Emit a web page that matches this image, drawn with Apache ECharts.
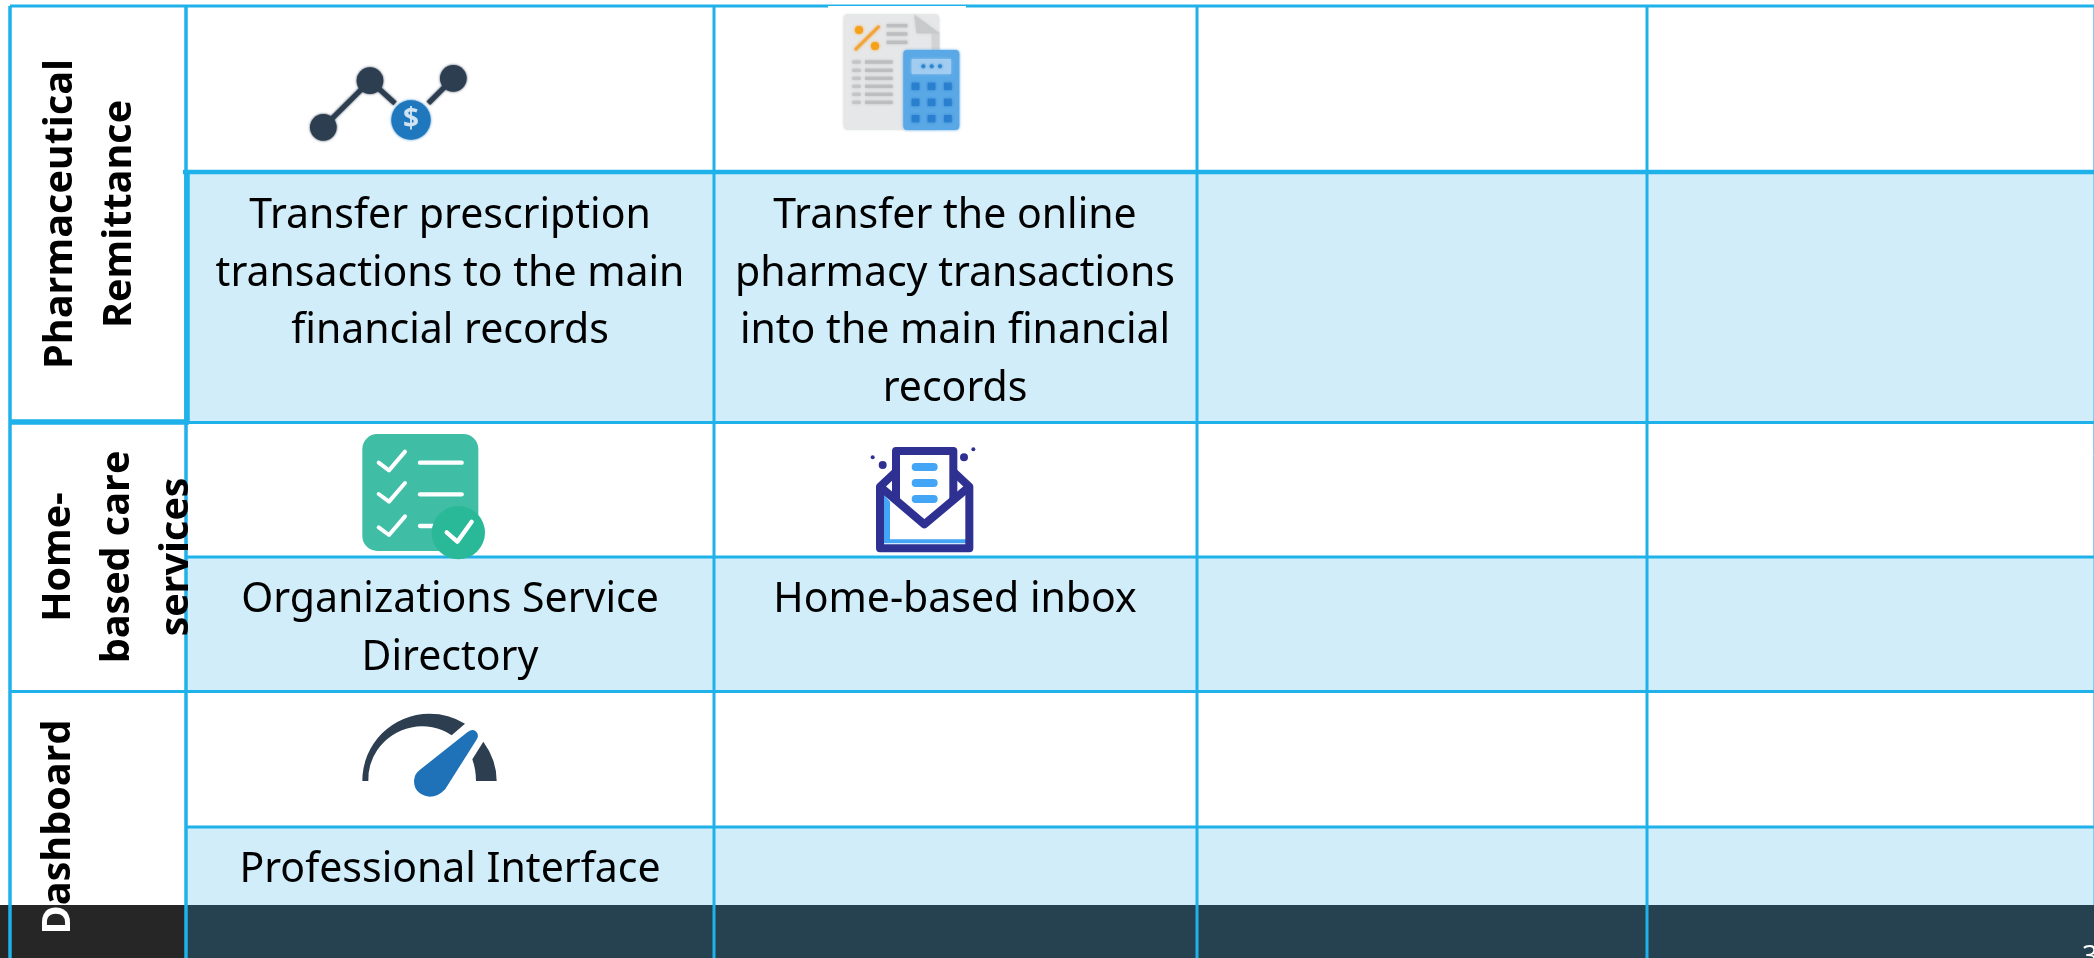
<!DOCTYPE html>
<html><head><meta charset="utf-8">
<script src="https://cdn.jsdelivr.net/npm/echarts@6/dist/echarts.min.js"></script>
<style>html,body{margin:0;padding:0;background:#fff}#c{width:2094px;height:958px}</style>
</head><body><div id="c"></div>
<script>
// ---- content ----
const sectionLabels = ['Pharmaceutical\nRemittance', 'Home-\nbased care\nservices', '{w|D}{b|ashboard}'];
const prescriptionCell = 'Transfer prescription\ntransactions to the main\nfinancial records';
const onlineCell = 'Transfer the online\npharmacy transactions\ninto the main financial\nrecords';
const directoryCell = 'Organizations Service\nDirectory';
const inboxCell = 'Home-based inbox';
const interfaceCell = 'Professional Interface';
const pageNumber = '3';
const cellTexts = [prescriptionCell, onlineCell, directoryCell, inboxCell, interfaceCell];
const iconNames = ['money', 'calculator', 'checklist', 'inbox', 'gauge'];

// ---- layout, in the axis units of the page-sized grid ----
const colEdges = [10, 186, 714, 1197, 1647, 2094];
const rowEdges = [6, 172, 421.5, 557, 691.5, 827, 905, 958];
const sectionCenters = [[90, 214], [118, 557], [59, 827]];
const textAnchors = [[450, 188], [955, 188], [450, 572], [955, 572], [450, 842]];
const iconOrigins = [[280, 40], [820, 0], [350, 425], [860, 435], [350, 700]];
const C = {line: '#1fb1ea', fill: '#d1edf9', band: '#264250', bandL: '#262626',
  dark: '#2c3e50', blue: '#1f78bd', text: '#000000'};

const xy = (api, p) => api.coord(p);
const rectEl = (api, x0, y0, x1, y1, fill) => {
  const a = xy(api, [x0, y0]), b = xy(api, [x1, y1]);
  return {type: 'rect', shape: {x: a[0], y: a[1], width: b[0] - a[0], height: b[1] - a[1]}, style: {fill}};
};
const lineEl = (api, x0, y0, x1, y1, w, color) => {
  const a = xy(api, [x0, y0]), b = xy(api, [x1, y1]);
  return {type: 'line', shape: {x1: a[0], y1: a[1], x2: b[0], y2: b[1]}, style: {stroke: color || C.line, lineWidth: w}};
};

// icon helpers: local coordinates are 3x page pixels
const circ = (cx, cy, r, fill) => ({type: 'circle', shape: {cx, cy, r}, style: {fill}});
const rr = (x0, y0, x1, y1, r, fill) => ({type: 'rect', shape: {x: x0, y: y0, width: x1 - x0, height: y1 - y0, r}, style: {fill}});
const seg = (x1, y1, x2, y2, w, stroke, cap) => ({type: 'line', shape: {x1, y1, x2, y2}, style: {stroke, lineWidth: w, lineCap: cap || 'butt'}});
const poly = (points, fill) => ({type: 'polygon', shape: {points}, style: {fill}});
const pl = (points, w, stroke) => ({type: 'polyline', shape: {points}, style: {stroke, lineWidth: w, fill: 'none', lineJoin: 'round', lineCap: 'round'}});
const pth = (d, x0, y0, x1, y1, fill) => ({type: 'path', shape: {pathData: d, layout: 'cover', x: x0, y: y0, width: x1 - x0, height: y1 - y0}, style: {fill}});

const iconParts = {
  money() {
    return [
      seg(130, 262, 270, 122, 15, C.dark), seg(270, 122, 345, 190, 15, C.dark), seg(445, 190, 520, 115, 15, C.dark),
      circ(130, 262, 40, C.dark), circ(270, 122, 40, C.dark), circ(520, 115, 40, C.dark), circ(393, 240, 59, C.blue),
      {type: 'text', style: {text: '$', x: 393, y: 240, align: 'center', verticalAlign: 'middle', fill: '#cfe3f3', font: 'bold 84px "Open Sans"'}}
    ];
  },
  calculator() {
    const p = [rr(70, 42, 358, 390, 14, '#e6e7e8'), poly([[335, 95], [358, 95], [358, 150], [335, 150]], '#d2d3d4'),
      poly([[283, 44], [358, 100], [290, 100]], '#c8c9ca'),
      seg(105, 150, 178, 78, 9, '#f2a33a'), circ(117, 90, 12, '#f7a11a'), circ(165, 138, 12, '#f7a11a')];
    [77, 102, 127].forEach(y => p.push(seg(200, y, 262, y, 10, '#bdbebf')));
    [186, 211, 235, 259, 283, 307].forEach(y => { p.push(seg(97, y, 122, y, 10, '#c4c5c6')); p.push(seg(135, y, 218, y, 10, '#bdbebf')); });
    p.push(rr(250, 150, 418, 390, 12, '#5aa8e6'), rr(275, 177, 393, 222, 3, '#a3cdf0'));
    [310, 335, 360].forEach(x => p.push(circ(x, 199, 6, '#2f86d0')));
    [248, 296, 345].forEach(y => [275, 323, 372].forEach(x => p.push(rr(x, y, x + 23, y + 22, 1, '#2a80cf'))));
    return p;
  },
  checklist() {
    const p = [rr(37, 27, 385, 378, 45, '#3fbda5')];
    const w = '#ffffff';
    [0, 94, 194].forEach(d => p.push(pl([[86, 113 + d], [117, 136 + d], [165, 80 + d]], 12, w)));
    p.push(seg(210, 113, 335, 113, 13, w, 'round'), seg(210, 208, 335, 208, 13, w, 'round'), seg(210, 303, 250, 303, 13, w, 'round'));
    p.push(circ(325, 323, 80, '#2ab998'), pl([[290, 322], [322, 350], [365, 290]], 13, w));
    return p;
  },
  inbox() {
    const d = '#2e3192', l = '#42a5f5';
    return [
      poly([[72, 180], [72, 325], [318, 325], [318, 313], [90, 313], [90, 200]], l),
      {type: 'polyline', shape: {points: [[108, 110], [60, 155], [60, 340], [328, 340], [328, 155], [280, 110]]}, style: {stroke: d, lineWidth: 24, fill: 'none', lineJoin: 'round'}},
      {type: 'polyline', shape: {points: [[108, 196], [108, 48], [280, 48], [280, 196]]}, style: {stroke: d, lineWidth: 24, fill: 'none', lineJoin: 'round'}},
      {type: 'polyline', shape: {points: [[60, 155], [193, 268], [328, 155]]}, style: {stroke: d, lineWidth: 24, fill: 'none', lineJoin: 'round'}},
      seg(167, 96, 221, 96, 24, l, 'round'), seg(167, 144, 221, 144, 24, l, 'round'), seg(167, 192, 221, 192, 24, l, 'round'),
      circ(68, 90, 12, d), circ(38, 67, 6, d), circ(312, 67, 12, d), circ(340, 43, 6, d)
    ];
  },
  gauge() {
    return [
      pth('M37 243 A202 202 0 0 1 345 70 L305 105 A161 160 0 0 0 55 243 Z', 37, 41, 345, 243, C.dark),
      pth('M400 125 Q440 180 440 243 L378 243 Q378 210 367 178 Z', 367, 125, 440, 243, C.dark),
      pth('M352 98 Q372 84 382 104 Q385 112 378 122 L285 268 Q262 292 235 290 Q192 282 192 243 Q194 222 208 212 Z', 192, 90, 384, 290, '#1f72b8')
    ];
  }
};
const blurred = {money: 2.5, calculator: 3, checklist: 0, inbox: 0, gauge: 0};

const layer = (data, z, renderItem) => ({type: 'custom', coordinateSystem: 'cartesian2d', data, z, clip: false, silent: true, animation: false, renderItem});

const option = {
  animation: false,
  backgroundColor: '#ffffff',
  grid: {left: 0, right: 0, top: 0, bottom: 0},
  xAxis: {type: 'value', min: 0, max: 2094, show: false},
  yAxis: {type: 'value', min: 0, max: 958, inverse: true, show: false},
  series: [
    // tinted rows and the footer band
    layer([[1, 1], [1, 3], [1, 5]], 1, (p, api) => rectEl(api, colEdges[1], rowEdges[api.value(1)], colEdges[5], rowEdges[api.value(1) + 1], C.fill)),
    layer([[0, 6]], 2, (p, api) => ({type: 'group', children: [
      rectEl(api, 0, rowEdges[6], colEdges[1], rowEdges[7], C.bandL),
      rectEl(api, colEdges[1], rowEdges[6], 2094, rowEdges[7], C.band)
    ]})),
    // rules
    layer([[0, 0]], 3, (p, api) => {
      const ch = [];
      [0, 1, 2, 3, 4].forEach(i => ch.push(lineEl(api, colEdges[i], rowEdges[0], colEdges[i], rowEdges[7], i < 2 ? 3.5 : 3)));
      ch.push(lineEl(api, 2093.5, rowEdges[0], 2093.5, rowEdges[6], 1, '#7fd0f0'));
      ch.push(lineEl(api, colEdges[0], rowEdges[0], 2094, rowEdges[0], 3));
      ch.push(lineEl(api, colEdges[1] - 3, rowEdges[1], 2094, rowEdges[1], 4.5));
      ch.push(lineEl(api, colEdges[1] + 1, rowEdges[1], colEdges[1] + 1, rowEdges[2] + 2, 5.5));
      ch.push(lineEl(api, colEdges[0], rowEdges[2] + 0.5, colEdges[1] + 3, rowEdges[2] + 0.5, 5.5));
      ch.push(lineEl(api, colEdges[1], rowEdges[2] + 1, 2094, rowEdges[2] + 1, 3));
      [3, 5].forEach(r => ch.push(lineEl(api, colEdges[1], rowEdges[r], 2094, rowEdges[r], 3)));
      ch.push(lineEl(api, colEdges[0], rowEdges[4], 2094, rowEdges[4], 3));
      ch.push(rectEl(api, 828, rowEdges[0], 966, rowEdges[0] + 3, '#ffffff'));
      return {type: 'group', children: ch};
    }),
    // icons
    layer(iconNames.map((n, i) => [iconOrigins[i][0], iconOrigins[i][1]]), 4, (p, api) => {
      const o = api.coord([api.value(0), api.value(1)]);
      const name = iconNames[p.dataIndex];
      const parts = iconParts[name]();
      const b = blurred[name];
      if (b) parts.forEach(e => {
        if (e.type === 'text') return;
        const col = e.style.fill && e.style.fill !== 'none' ? e.style.fill : e.style.stroke;
        e.style.shadowBlur = b; e.style.shadowColor = col;
      });
      return {type: 'group', x: o[0], y: o[1], scaleX: 1 / 3, scaleY: 1 / 3, children: parts};
    }),
    // section labels
    layer(sectionCenters, 5, (p, api) => {
      const o = api.coord([api.value(0), api.value(1)]);
      const font = {fontFamily: 'Open Sans', fontWeight: 'bold', fontSize: 39.5};
      return {type: 'text', x: o[0], y: o[1], rotation: Math.PI / 2,
        style: {text: sectionLabels[p.dataIndex], x: 0, y: 0, align: 'center', verticalAlign: 'middle', lineHeight: 59,
          fill: '#000', ...font,
          rich: {w: {...font, fill: '#fff', lineHeight: 59}, b: {...font, fill: '#000', lineHeight: 59}}}};
    }),
    // cell labels
    layer(textAnchors, 5, (p, api) => {
      const o = api.coord([api.value(0), api.value(1)]);
      return {type: 'text', x: o[0], y: o[1],
        style: {text: cellTexts[p.dataIndex], x: 0, y: 0, align: 'center', verticalAlign: 'top', lineHeight: 57.5,
          fill: C.text, fontFamily: 'Noto Sans', fontSize: 41}};
    }),
    // page number
    layer([[2082, 943]], 5, (p, api) => {
      const o = api.coord([api.value(0), api.value(1)]);
      return {type: 'text', x: o[0], y: o[1], style: {text: pageNumber, x: 0, y: 0, align: 'left', verticalAlign: 'top', fill: '#ffffff', fontFamily: 'Noto Sans', fontSize: 28}};
    })
  ]
};
const chart = echarts.init(document.getElementById('c'), null, {renderer: 'canvas'});
chart.setOption(option);
</script></body></html>
